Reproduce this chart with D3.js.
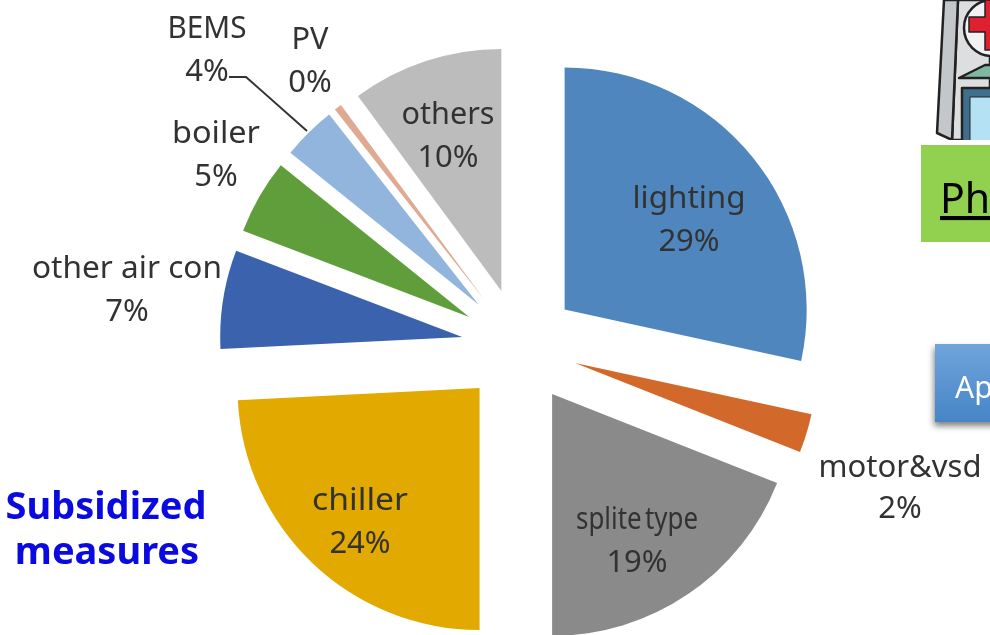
<!DOCTYPE html>
<html>
<head>
<meta charset="utf-8">
<script src="https://cdn.jsdelivr.net/npm/d3@7"></script>
<style>
  html, body { margin: 0; padding: 0; background: #fff; overflow: hidden; }
  svg { display: block; }
  text { font-family: "Noto Sans", sans-serif; }
</style>
</head>
<body>
<script>
var categories = ["lighting", "motor&vsd", "splite type", "chiller", "other air con", "boiler", "BEMS", "PV", "others"];
var shares = [28.4, 2.6, 19, 24.2, 6.6, 5, 3.6, 0.5, 10.1];
var shareLabels = ["29%", "2%", "19%", "24%", "7%", "5%", "4%", "0%", "10%"];
var colors = ["#4f86bd", "#d2682a", "#8a8a8a", "#e2a900", "#3a62ac", "#5f9e3a", "#92b5de", "#e0a992", "#bcbcbc"];
// label centres, x then y for name line and value line
var labelSpots = [[689, 197, 240], [900, 466, 507], [637, 518, 561], [360, 499, 542], [127, 267, 310], [216, 132, 175], [207, 27, 70], [310, 38, 81], [448, 113, 156]];
// widths the names take up in the picture
var nameWidths = [113, 163, 122, 96, 190, 88, 79, 37, 93];

var width = 990, height = 635;
var cx = 519.5, cy = 346, radius = 242, explode = 58;

var svg = d3.select("body").append("svg")
    .attr("width", width)
    .attr("height", height);

var defs = svg.append("defs");
var blur = defs.append("filter").attr("id", "soft");
blur.append("feGaussianBlur").attr("stdDeviation", 0.5);
var btn = defs.append("linearGradient").attr("id", "btn")
    .attr("x1", 0).attr("y1", 0).attr("x2", 0).attr("y2", 1);
btn.append("stop").attr("offset", "0%").attr("stop-color", "#70a5db");
btn.append("stop").attr("offset", "100%").attr("stop-color", "#4684c6");
var shadow = defs.append("filter").attr("id", "shadow")
    .attr("x", "-30%").attr("y", "-30%").attr("width", "160%").attr("height", "160%");
shadow.append("feDropShadow").attr("dx", -1).attr("dy", 4).attr("stdDeviation", 3)
    .attr("flood-color", "#000").attr("flood-opacity", 0.5);
defs.append("clipPath").attr("id", "houseClip")
    .append("rect").attr("x", 900).attr("y", 0).attr("width", 90).attr("height", 140);

var pie = d3.pie().sort(null).value(function(d){ return d; });
var arc = d3.arc().innerRadius(0).outerRadius(radius);

var slices = svg.append("g").attr("filter", "url(#soft)")
    .selectAll("path")
    .data(pie(shares))
    .enter()
    .append("path")
    .attr("d", arc)
    .attr("fill", function(d, i){ return colors[i]; })
    .attr("transform", function(d){
        var mid = (d.startAngle + d.endAngle) / 2;
        return "translate(" + (cx + explode * Math.sin(mid)) + "," + (cy - explode * Math.cos(mid)) + ")";
    });

// BEMS leader
svg.append("path")
    .attr("d", d3.line()([[229, 77], [246, 77], [307, 131]]))
    .attr("fill", "none")
    .attr("stroke", "#333")
    .attr("stroke-width", 2);

var labels = svg.append("g").attr("filter", "url(#soft)")
    .selectAll("g")
    .data(categories)
    .enter()
    .append("g")
    .attr("text-anchor", "middle")
    .attr("font-size", 31)
    .attr("fill", "#333");

labels.append("text")
    .attr("x", function(d, i){ return labelSpots[i][0]; })
    .attr("y", function(d, i){ return labelSpots[i][1]; })
    .attr("dy", "0.36em")
    .attr("word-spacing", function(d){ return d == "splite type" ? -4 : 0; })
    .attr("textLength", function(d, i){ return nameWidths[i]; })
    .attr("lengthAdjust", "spacingAndGlyphs")
    .text(function(d){ return d; });

labels.append("text")
    .attr("x", function(d, i){ return labelSpots[i][0]; })
    .attr("y", function(d, i){ return labelSpots[i][2]; })
    .attr("dy", "0.36em")
    .text(function(d, i){ return shareLabels[i]; });

var note = svg.append("g")
    .attr("text-anchor", "middle")
    .attr("font-size", 38)
    .attr("font-weight", "bold")
    .attr("fill", "#0a0ae0");
note.append("text").attr("x", 106).attr("y", 519).text("Subsidized");
note.append("text").attr("x", 107).attr("y", 564).text("measures");

// right side pieces, cut by the window edge
var house = svg.append("g").attr("clip-path", "url(#houseClip)")
    .attr("stroke", "#222").attr("stroke-width", 2.5).attr("stroke-linejoin", "round");
house.append("path").attr("d", "M958,0 L952,140 L990,140 L990,0 Z").attr("fill", "#dcdee0");
house.append("path").attr("d", "M944,0 L937,133 L952,140 L958,0 Z").attr("fill", "#c4c7ca");
house.append("circle").attr("cx", 992).attr("cy", 28).attr("r", 28).attr("fill", "#f2f2f2");
house.append("path").attr("d", "M985,0 V17 H969 V32 H985 V50 H1000 V0 Z").attr("fill", "#e01f30").attr("stroke-width", 1.5);
house.append("path").attr("d", "M959,78 L985,65 L1000,65 L1000,78 Z").attr("fill", "#7fb8a0");
house.append("rect").attr("x", 962).attr("y", 88).attr("width", 40).attr("height", 60).attr("fill", "#3f6f8c");
house.append("rect").attr("x", 970).attr("y", 97).attr("width", 40).attr("height", 50).attr("fill", "#b5e1f5").attr("stroke-width", 1);

svg.append("rect").attr("x", 921).attr("y", 145).attr("width", 69).attr("height", 97).attr("fill", "#92d050");
svg.append("text").attr("x", 940).attr("y", 213)
    .attr("font-size", 41).attr("font-family", "Noto Sans")
    .attr("text-decoration", "underline").attr("fill", "#000").text("Ph");

svg.append("rect").attr("x", 935).attr("y", 344).attr("width", 70).attr("height", 78)
    .attr("fill", "url(#btn)").attr("filter", "url(#shadow)");
svg.append("text").attr("x", 955).attr("y", 398)
    .attr("font-size", 30).attr("fill", "#fff").text("Ap");
</script>
</body>
</html>
